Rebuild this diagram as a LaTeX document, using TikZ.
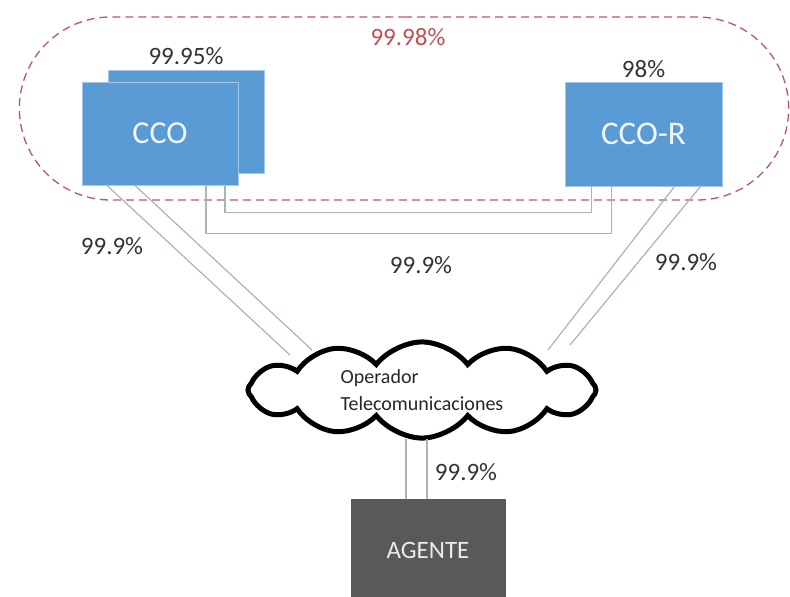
\documentclass[tikz,border=0pt]{standalone}
\usepackage{fontspec}
\setmainfont{Carlito}
\usetikzlibrary{shapes.symbols, shapes.misc, positioning, calc}
\definecolor{boxblue}{HTML}{5B9BD5}
\definecolor{agentgray}{HTML}{595959}
\definecolor{linkgray}{HTML}{A7B3BE}
\definecolor{dashred}{HTML}{B8566A}
\definecolor{pctred}{HTML}{C0504D}

\begin{document}
\begin{tikzpicture}[
    x=1pt, y=-1pt,
    box/.style={rectangle, fill=boxblue, draw=boxblue!55!white, line width=1pt, minimum width=156pt, minimum height=103pt, text=white!92!boxblue, font=\fontsize{32}{36}\selectfont},
    agent/.style={rectangle, fill=agentgray, draw=agentgray, minimum width=154pt, minimum height=102pt, text=white!92!black, font=\fontsize{25}{30}\selectfont},
    pct/.style={font=\fontsize{25}{30}\selectfont, text=black!80},
    link/.style={draw=linkgray, line width=1.2pt}
]
\useasboundingbox (0,0) rectangle (790,597);

\node[rounded rectangle, draw=dashred, dash pattern=on 8pt off 5pt, line width=1.3pt, minimum width=776pt, minimum height=183pt] (grp) at (404,108.5) {};
\node[pct, text=pctred] (tot) at (408,37) {99.98\%};

\node[box] (ccob) at (186,121.5) {};
\node[box] (cco) at (160,133.5) {CCO};
\node[box, minimum width=157pt, minimum height=104pt, font=\fontsize{33}{36}\selectfont] (ccor) at (643.5,134) {CCO-R};
\node[pct, above=1pt of ccob] (pb) {99.95\%};
\node[pct, above=0pt of ccor] (pr) {98\%};

\node[cloud, draw=black, fill=white, line width=5pt, cloud puffs=12, cloud puff arc=105, aspect=3.6, minimum width=348pt, minimum height=92pt, align=left, font=\fontsize{20}{27}\selectfont, text=black!85] (op) at (422,390) {Operador\\Telecomunicaciones};
\node[agent] (ag) at (428,550) {AGENTE};

\node[pct] (l1) at (112,246) {99.9\%};
\node[pct] (l2) at (421,265) {99.9\%};
\node[pct] (l3) at (686,262) {99.9\%};
\node[pct] (l4) at (466,472) {99.9\%};

\draw[link] ([xshift=65pt]cco.south) -- ++(0,-27pt) -| ([xshift=-52pt]ccor.south);
\draw[link] ([xshift=46pt]cco.south) -- ++(0,-48pt) -| ([xshift=-32pt]ccor.south);
\draw[link] ([xshift=-53pt]cco.south) -- ($(op.center)+(-132pt,35pt)$);
\draw[link] ([xshift=-25pt]cco.south) -- ($(op.center)+(-110pt,40pt)$);
\draw[link] ([xshift=31pt]ccor.south) -- ($(op.center)+(126pt,40pt)$);
\draw[link] ([xshift=57pt]ccor.south) -- ($(op.center)+(148pt,45pt)$);
\draw[link] ([xshift=-22pt]ag.north) -- ++(0,60pt);
\draw[link] ([xshift=-1pt]ag.north) -- ++(0,60pt);
\end{tikzpicture}
\end{document}
